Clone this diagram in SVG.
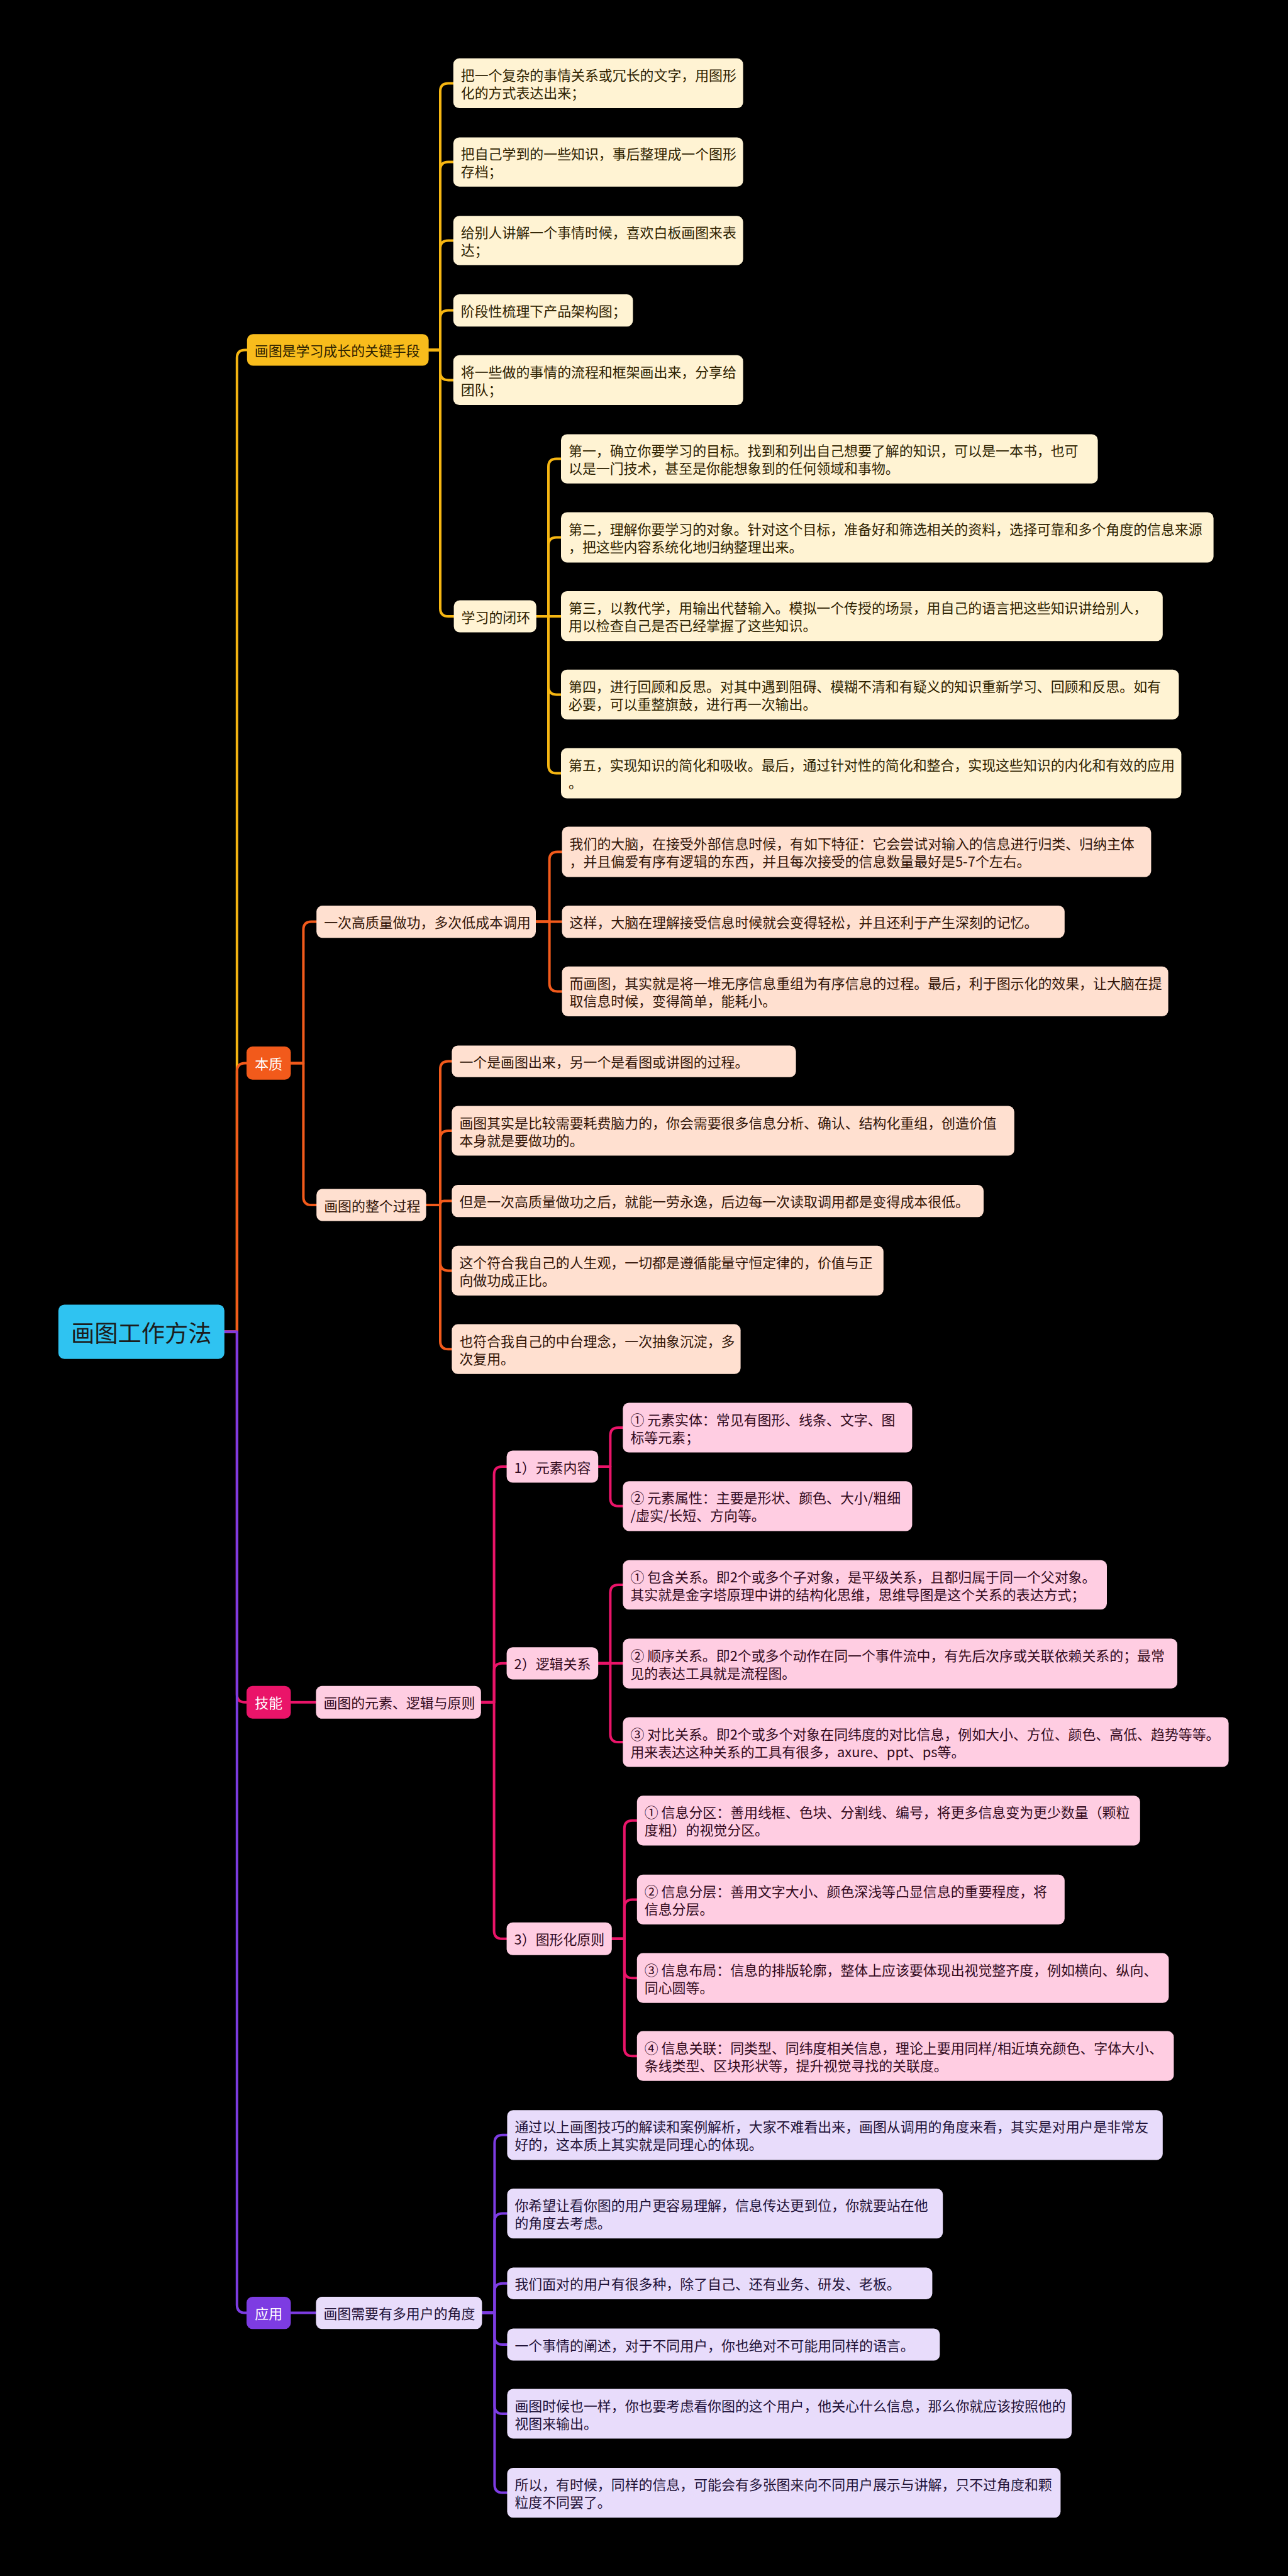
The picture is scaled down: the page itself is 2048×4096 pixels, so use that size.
<svg xmlns="http://www.w3.org/2000/svg" width="2048" height="4096" viewBox="0 0 2048 4096">
<style>
text{font-family:"Noto Sans CJK SC","Noto Sans",sans-serif;font-size:27.4px;dominant-baseline:central}
.c{fill:none;stroke-width:5;stroke-linejoin:round;stroke-linecap:round}
.cy{stroke:#f6b612}.co{stroke:#f25a1b}.cm{stroke:#ea1469}.cp{stroke:#7d3ce2}
.ly{fill:#fff3d3}.lo{fill:#ffe0d0}.lm{fill:#ffcde2}.lp{fill:#e8dcfb}
.ty{fill:#2e2200}.to{fill:#321508}.tm{fill:#330b1e}.tp{fill:#1f1238}
.tw{fill:#ffffff;text-anchor:middle}
</style>
<rect width="2048" height="4096" fill="#000"/>
<g transform="scale(0.8)">
<g id="connectors">
<path class="c cy" d="M446,2647 H471 V711.5 Q471,695.5 487,695.5 H491"/>
<path class="c co" d="M446,2647 H471 V2129 Q471,2113 487,2113 H490"/>
<path class="c cm" d="M446,2647 H471 V3367.5 Q471,3383.5 487,3383.5 H490"/>
<path class="c cp" d="M446,2647 H471 V4581 Q471,4597 487,4597 H490"/>
<path class="c cy" d="M852,695.5 H875 V181.5 Q875,165.5 891,165.5 H901"/>
<path class="c cy" d="M852,695.5 H875 V338 Q875,322 891,322 H901"/>
<path class="c cy" d="M852,695.5 H875 V494 Q875,478 891,478 H901"/>
<path class="c cy" d="M852,695.5 H875 V633 Q875,617 891,617 H901"/>
<path class="c cy" d="M852,695.5 H875 V739.5 Q875,755.5 891,755.5 H901"/>
<path class="c cy" d="M852,695.5 H875 V1209 Q875,1225 891,1225 H902"/>
<path class="c cy" d="M1066,1225 H1090 V928 Q1090,912 1106,912 H1115"/>
<path class="c cy" d="M1066,1225 H1090 V1084 Q1090,1068 1106,1068 H1115"/>
<path class="c cy" d="M1066,1225 H1115"/>
<path class="c cy" d="M1066,1225 H1090 V1364.5 Q1090,1380.5 1106,1380.5 H1115"/>
<path class="c cy" d="M1066,1225 H1090 V1521 Q1090,1537 1106,1537 H1115"/>
<path class="c co" d="M578,2113 H603 V1848 Q603,1832 619,1832 H629"/>
<path class="c co" d="M578,2113 H603 V2379 Q603,2395 619,2395 H629"/>
<path class="c co" d="M1065,1832 H1092 V1709 Q1092,1693 1108,1693 H1117"/>
<path class="c co" d="M1065,1832 H1117"/>
<path class="c co" d="M1065,1832 H1092 V1954.5 Q1092,1970.5 1108,1970.5 H1117"/>
<path class="c co" d="M847,2395 H875 V2125.5 Q875,2109.5 891,2109.5 H898"/>
<path class="c co" d="M847,2395 H875 V2263.5 Q875,2247.5 891,2247.5 H898"/>
<path class="c co" d="M847,2395 H875 Q875,2387 883,2387 H898"/>
<path class="c co" d="M847,2395 H875 V2509.5 Q875,2525.5 891,2525.5 H898"/>
<path class="c co" d="M847,2395 H875 V2665.5 Q875,2681.5 891,2681.5 H898"/>
<path class="c cm" d="M578,3383.5 H628"/>
<path class="c cm" d="M956,3383.5 H982 V2931 Q982,2915 998,2915 H1007"/>
<path class="c cm" d="M956,3383.5 H982 V3322 Q982,3306 998,3306 H1007"/>
<path class="c cm" d="M956,3383.5 H982 V3837.5 Q982,3853.5 998,3853.5 H1007"/>
<path class="c cm" d="M1189,2915 H1213 V2853.5 Q1213,2837.5 1229,2837.5 H1238"/>
<path class="c cm" d="M1189,2915 H1213 V2977.5 Q1213,2993.5 1229,2993.5 H1238"/>
<path class="c cm" d="M1189,3306 H1213 V3166 Q1213,3150 1229,3150 H1238"/>
<path class="c cm" d="M1189,3306 H1238"/>
<path class="c cm" d="M1189,3306 H1213 V3446.5 Q1213,3462.5 1229,3462.5 H1238"/>
<path class="c cm" d="M1216,3853.5 H1241 V3634.5 Q1241,3618.5 1257,3618.5 H1266"/>
<path class="c cm" d="M1216,3853.5 H1241 V3791.5 Q1241,3775.5 1257,3775.5 H1266"/>
<path class="c cm" d="M1216,3853.5 H1241 V3915.5 Q1241,3931.5 1257,3931.5 H1266"/>
<path class="c cm" d="M1216,3853.5 H1241 V4070.5 Q1241,4086.5 1257,4086.5 H1266"/>
<path class="c cp" d="M578,4597 H628"/>
<path class="c cp" d="M958,4597 H983 V4259.5 Q983,4243.5 999,4243.5 H1008"/>
<path class="c cp" d="M958,4597 H983 V4415.5 Q983,4399.5 999,4399.5 H1008"/>
<path class="c cp" d="M958,4597 H983 V4554.5 Q983,4538.5 999,4538.5 H1008"/>
<path class="c cp" d="M958,4597 H983 V4644 Q983,4660 999,4660 H1008"/>
<path class="c cp" d="M958,4597 H983 V4781.5 Q983,4797.5 999,4797.5 H1008"/>
<path class="c cp" d="M958,4597 H983 V4938.5 Q983,4954.5 999,4954.5 H1008"/>
</g>

<g id="root"><rect x="116" y="2593" width="330" height="108" rx="12" fill="#2fc3f1"/><text x="281" y="2647" style="font-size:46.6px;text-anchor:middle" fill="#1c1c1c">画图工作方法</text></g>

<g id="n-a"><rect x="491" y="664" width="361" height="63" rx="12" fill="#f8bc1c"/><text class="ty" x="506" y="695.5">画图是学习成长的关键手段</text></g>
<g id="n-y1"><rect class="ly" x="901" y="116" width="576" height="99" rx="12"/><text class="ty" x="916" y="148">把一个复杂的事情关系或冗长的文字，用图形</text><text class="ty" x="916" y="183">化的方式表达出来；</text></g>
<g id="n-y2"><rect class="ly" x="901" y="273" width="576" height="98" rx="12"/><text class="ty" x="916" y="304.5">把自己学到的一些知识，事后整理成一个图形</text><text class="ty" x="916" y="339.5">存档；</text></g>
<g id="n-y3"><rect class="ly" x="901" y="429" width="576" height="98" rx="12"/><text class="ty" x="916" y="460.5">给别人讲解一个事情时候，喜欢白板画图来表</text><text class="ty" x="916" y="495.5">达；</text></g>
<g id="n-y4"><rect class="ly" x="901" y="585" width="357" height="64" rx="12"/><text class="ty" x="916" y="617">阶段性梳理下产品架构图；</text></g>
<g id="n-y5"><rect class="ly" x="901" y="706" width="576" height="99" rx="12"/><text class="ty" x="916" y="738">将一些做的事情的流程和框架画出来，分享给</text><text class="ty" x="916" y="773">团队；</text></g>
<g id="n-y6"><rect class="ly" x="902" y="1193" width="164" height="64" rx="12"/><text class="ty" x="917" y="1225">学习的闭环</text></g>
<g id="n-l1"><rect class="ly" x="1115" y="863" width="1067" height="98" rx="12"/><text class="ty" x="1130" y="894.5">第一，确立你要学习的目标。找到和列出自己想要了解的知识，可以是一本书，也可</text><text class="ty" x="1130" y="929.5">以是一门技术，甚至是你能想象到的任何领域和事物。</text></g>
<g id="n-l2"><rect class="ly" x="1115" y="1018" width="1297" height="100" rx="12"/><text class="ty" x="1130" y="1050.5">第二，理解你要学习的对象。针对这个目标，准备好和筛选相关的资料，选择可靠和多个角度的信息来源</text><text class="ty" x="1130" y="1085.5">，把这些内容系统化地归纳整理出来。</text></g>
<g id="n-l3"><rect class="ly" x="1115" y="1175" width="1196" height="99" rx="12"/><text class="ty" x="1130" y="1207">第三，以教代学，用输出代替输入。模拟一个传授的场景，用自己的语言把这些知识讲给别人，</text><text class="ty" x="1130" y="1242">用以检查自己是否已经掌握了这些知识。</text></g>
<g id="n-l4"><rect class="ly" x="1115" y="1331" width="1228" height="99" rx="12"/><text class="ty" x="1130" y="1363">第四，进行回顾和反思。对其中遇到阻碍、模糊不清和有疑义的知识重新学习、回顾和反思。如有</text><text class="ty" x="1130" y="1398">必要，可以重整旗鼓，进行再一次输出。</text></g>
<g id="n-l5"><rect class="ly" x="1115" y="1487" width="1233" height="100" rx="12"/><text class="ty" x="1130" y="1519.5">第五，实现知识的简化和吸收。最后，通过针对性的简化和整合，实现这些知识的内化和有效的应用</text><text class="ty" x="1130" y="1554.5">。</text></g>

<g id="n-bz"><rect x="490" y="2080" width="88" height="66" rx="12" fill="#f25a1b"/><text class="tw" x="534" y="2113">本质</text></g>
<g id="n-o1"><rect class="lo" x="629" y="1800" width="436" height="64" rx="12"/><text class="to" x="644" y="1832">一次高质量做功，多次低成本调用</text></g>
<g id="n-o1a"><rect class="lo" x="1117" y="1643" width="1171" height="100" rx="12"/><text class="to" x="1132" y="1675.5">我们的大脑，在接受外部信息时候，有如下特征：它会尝试对输入的信息进行归类、归纳主体</text><text class="to" x="1132" y="1710.5">，并且偏爱有序有逻辑的东西，并且每次接受的信息数量最好是5-7个左右。</text></g>
<g id="n-o1b"><rect class="lo" x="1117" y="1800" width="999" height="64" rx="12"/><text class="to" x="1132" y="1832">这样，大脑在理解接受信息时候就会变得轻松，并且还利于产生深刻的记忆。</text></g>
<g id="n-o1c"><rect class="lo" x="1117" y="1921" width="1205" height="99" rx="12"/><text class="to" x="1132" y="1953">而画图，其实就是将一堆无序信息重组为有序信息的过程。最后，利于图示化的效果，让大脑在提</text><text class="to" x="1132" y="1988">取信息时候，变得简单，能耗小。</text></g>
<g id="n-o2"><rect class="lo" x="629" y="2363" width="218" height="64" rx="12"/><text class="to" x="644" y="2395">画图的整个过程</text></g>
<g id="n-o2a"><rect class="lo" x="898" y="2078" width="684" height="63" rx="12"/><text class="to" x="913" y="2109.5">一个是画图出来，另一个是看图或讲图的过程。</text></g>
<g id="n-o2b"><rect class="lo" x="898" y="2198" width="1118" height="99" rx="12"/><text class="to" x="913" y="2230">画图其实是比较需要耗费脑力的，你会需要很多信息分析、确认、结构化重组，创造价值</text><text class="to" x="913" y="2265">本身就是要做功的。</text></g>
<g id="n-o2c"><rect class="lo" x="898" y="2355" width="1057" height="64" rx="12"/><text class="to" x="913" y="2387">但是一次高质量做功之后，就能一劳永逸，后边每一次读取调用都是变得成本很低。</text></g>
<g id="n-o2d"><rect class="lo" x="898" y="2476" width="858" height="99" rx="12"/><text class="to" x="913" y="2508">这个符合我自己的人生观，一切都是遵循能量守恒定律的，价值与正</text><text class="to" x="913" y="2543">向做功成正比。</text></g>
<g id="n-o2e"><rect class="lo" x="898" y="2632" width="574" height="99" rx="12"/><text class="to" x="913" y="2664">也符合我自己的中台理念，一次抽象沉淀，多</text><text class="to" x="913" y="2699">次复用。</text></g>

<g id="n-jn"><rect x="490" y="3351" width="88" height="65" rx="12" fill="#ea1469"/><text class="tw" x="534" y="3383.5">技能</text></g>
<g id="n-k"><rect class="lm" x="628" y="3351" width="328" height="65" rx="12"/><text class="tm" x="643" y="3383.5">画图的元素、逻辑与原则</text></g>
<g id="n-k1"><rect class="lm" x="1007" y="2883" width="182" height="64" rx="12"/><text class="tm" x="1022" y="2915">1）元素内容</text></g>
<g id="n-k1a"><rect class="lm" x="1238" y="2788" width="575" height="99" rx="12"/><text class="tm" x="1253" y="2820">① 元素实体：常见有图形、线条、文字、图</text><text class="tm" x="1253" y="2855">标等元素；</text></g>
<g id="n-k1b"><rect class="lm" x="1238" y="2944" width="575" height="99" rx="12"/><text class="tm" x="1253" y="2976">② 元素属性：主要是形状、颜色、大小/粗细</text><text class="tm" x="1253" y="3011">/虚实/长短、方向等。</text></g>
<g id="n-k2"><rect class="lm" x="1007" y="3274" width="182" height="64" rx="12"/><text class="tm" x="1022" y="3306">2）逻辑关系</text></g>
<g id="n-k2a"><rect class="lm" x="1238" y="3101" width="962" height="98" rx="12"/><text class="tm" x="1253" y="3132.5">① 包含关系。即2个或多个子对象，是平级关系，且都归属于同一个父对象。</text><text class="tm" x="1253" y="3167.5">其实就是金字塔原理中讲的结构化思维，思维导图是这个关系的表达方式；</text></g>
<g id="n-k2b"><rect class="lm" x="1238" y="3257" width="1102" height="99" rx="12"/><text class="tm" x="1253" y="3289">② 顺序关系。即2个或多个动作在同一个事件流中，有先后次序或关联依赖关系的；最常</text><text class="tm" x="1253" y="3324">见的表达工具就是流程图。</text></g>
<g id="n-k2c"><rect class="lm" x="1238" y="3413" width="1204" height="99" rx="12"/><text class="tm" x="1253" y="3445">③ 对比关系。即2个或多个对象在同纬度的对比信息，例如大小、方位、颜色、高低、趋势等等。</text><text class="tm" x="1253" y="3480">用来表达这种关系的工具有很多，axure、ppt、ps等。</text></g>
<g id="n-k3"><rect class="lm" x="1007" y="3821" width="209" height="65" rx="12"/><text class="tm" x="1022" y="3853.5">3）图形化原则</text></g>
<g id="n-k3a"><rect class="lm" x="1266" y="3569" width="1000" height="99" rx="12"/><text class="tm" x="1281" y="3601">① 信息分区：善用线框、色块、分割线、编号，将更多信息变为更少数量（颗粒</text><text class="tm" x="1281" y="3636">度粗）的视觉分区。</text></g>
<g id="n-k3b"><rect class="lm" x="1266" y="3726" width="850" height="99" rx="12"/><text class="tm" x="1281" y="3758">② 信息分层：善用文字大小、颜色深浅等凸显信息的重要程度，将</text><text class="tm" x="1281" y="3793">信息分层。</text></g>
<g id="n-k3c"><rect class="lm" x="1266" y="3882" width="1057" height="99" rx="12"/><text class="tm" x="1281" y="3914">③ 信息布局：信息的排版轮廓，整体上应该要体现出视觉整齐度，例如横向、纵向、</text><text class="tm" x="1281" y="3949">同心圆等。</text></g>
<g id="n-k3d"><rect class="lm" x="1266" y="4037" width="1067" height="99" rx="12"/><text class="tm" x="1281" y="4069">④ 信息关联：同类型、同纬度相关信息，理论上要用同样/相近填充颜色、字体大小、</text><text class="tm" x="1281" y="4104">条线类型、区块形状等，提升视觉寻找的关联度。</text></g>

<g id="n-yy"><rect x="490" y="4565" width="88" height="64" rx="12" fill="#7d3ce2"/><text class="tw" x="534" y="4597">应用</text></g>
<g id="n-p"><rect class="lp" x="628" y="4565" width="330" height="64" rx="12"/><text class="tp" x="643" y="4597">画图需要有多用户的角度</text></g>
<g id="n-p1"><rect class="lp" x="1008" y="4194" width="1303" height="99" rx="12"/><text class="tp" x="1023" y="4226">通过以上画图技巧的解读和案例解析，大家不难看出来，画图从调用的角度来看，其实是对用户是非常友</text><text class="tp" x="1023" y="4261">好的，这本质上其实就是同理心的体现。</text></g>
<g id="n-p2"><rect class="lp" x="1008" y="4350" width="866" height="99" rx="12"/><text class="tp" x="1023" y="4382">你希望让看你图的用户更容易理解，信息传达更到位，你就要站在他</text><text class="tp" x="1023" y="4417">的角度去考虑。</text></g>
<g id="n-p3"><rect class="lp" x="1008" y="4507" width="845" height="63" rx="12"/><text class="tp" x="1023" y="4538.5">我们面对的用户有很多种，除了自己、还有业务、研发、老板。</text></g>
<g id="n-p4"><rect class="lp" x="1008" y="4628" width="860" height="64" rx="12"/><text class="tp" x="1023" y="4660">一个事情的阐述，对于不同用户，你也绝对不可能用同样的语言。</text></g>
<g id="n-p5"><rect class="lp" x="1008" y="4748" width="1122" height="99" rx="12"/><text class="tp" x="1023" y="4780">画图时候也一样，你也要考虑看你图的这个用户，他关心什么信息，那么你就应该按照他的</text><text class="tp" x="1023" y="4815">视图来输出。</text></g>
<g id="n-p6"><rect class="lp" x="1008" y="4905" width="1100" height="99" rx="12"/><text class="tp" x="1023" y="4937">所以，有时候，同样的信息，可能会有多张图来向不同用户展示与讲解，只不过角度和颗</text><text class="tp" x="1023" y="4972">粒度不同罢了。</text></g>
</g>
</svg>
